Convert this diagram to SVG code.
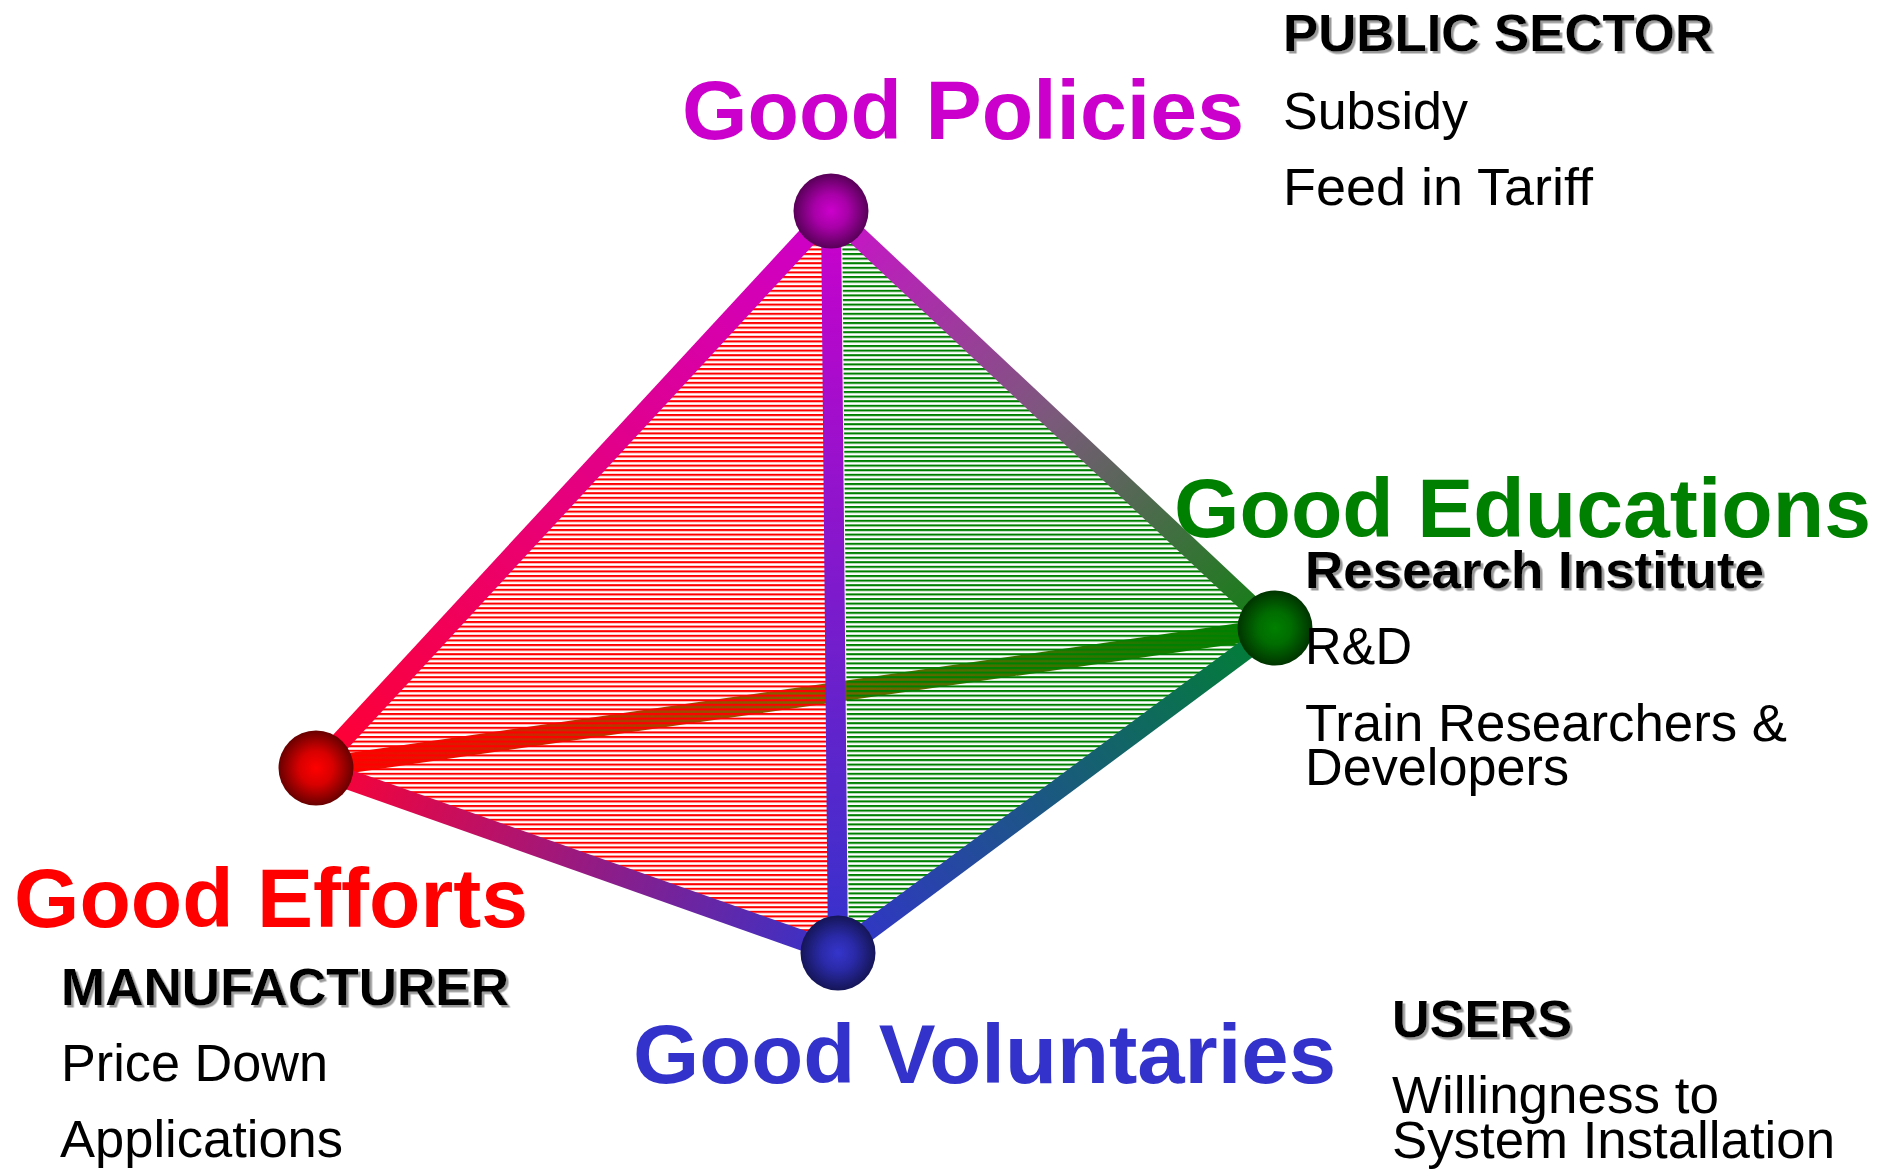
<svg xmlns="http://www.w3.org/2000/svg" width="1894" height="1170" viewBox="0 0 1894 1170">
  <style>
    .title { font-family: "Liberation Sans", Arial, sans-serif; font-weight: bold; font-size: 84px; }
    .head { font-family: "Liberation Sans", Arial, sans-serif; font-weight: bold; font-size: 52px; fill: #000; filter: url(#shadow); }
    .item { font-family: "Liberation Sans", Arial, sans-serif; font-size: 51px; fill: #000; }
    .edge { fill: none; stroke-width: 20; stroke-linecap: butt; }
  </style>
  <defs>
    <filter id="shadow" x="-5%" y="-20%" width="110%" height="150%">
      <feDropShadow dx="2.5" dy="2.5" stdDeviation="0.6" flood-color="#9a9a9a" flood-opacity="1"/>
    </filter>
    <!-- horizontal hatching for the two visible faces -->
    <pattern id="hatchRed" patternUnits="userSpaceOnUse" width="10" height="4.6">
      <rect x="0" y="0" width="10" height="2.1" fill="#ff0000"/>
    </pattern>
    <pattern id="hatchGreen" patternUnits="userSpaceOnUse" width="10" height="4.6">
      <rect x="0" y="0" width="10" height="2.1" fill="#008000"/>
    </pattern>
    <!-- edge colour ramps, from one vertex colour to the other -->
    <linearGradient id="gLT" gradientUnits="userSpaceOnUse" x1="316" y1="768" x2="831" y2="211">
      <stop offset="0" stop-color="#ff0030"/>
      <stop offset="1" stop-color="#cc00cc"/>
    </linearGradient>
    <linearGradient id="gTR" gradientUnits="userSpaceOnUse" x1="831" y1="211" x2="1275" y2="628">
      <stop offset="0" stop-color="#cc10cc"/>
      <stop offset="0.5" stop-color="#7a5a7a"/>
      <stop offset="1" stop-color="#108010"/>
    </linearGradient>
    <linearGradient id="gTB" gradientUnits="userSpaceOnUse" x1="831" y1="211" x2="838" y2="953">
      <stop offset="0" stop-color="#cc00cc"/>
      <stop offset="1" stop-color="#3333cc"/>
    </linearGradient>
    <linearGradient id="gLB" gradientUnits="userSpaceOnUse" x1="316" y1="768" x2="838" y2="953">
      <stop offset="0" stop-color="#ff0033"/>
      <stop offset="1" stop-color="#3333cc"/>
    </linearGradient>
    <linearGradient id="gRB" gradientUnits="userSpaceOnUse" x1="1275" y1="628" x2="838" y2="953">
      <stop offset="0" stop-color="#008030"/>
      <stop offset="1" stop-color="#3333cc"/>
    </linearGradient>
    <linearGradient id="gLR" gradientUnits="userSpaceOnUse" x1="316" y1="768" x2="1275" y2="628">
      <stop offset="0" stop-color="#ff0000"/>
      <stop offset="0.5" stop-color="#806000"/>
      <stop offset="1" stop-color="#008000"/>
    </linearGradient>
    <!-- sphere shading -->
    <radialGradient id="sMagenta" cx="0.5" cy="0.5" r="0.5">
      <stop offset="0" stop-color="#cc00cc"/>
      <stop offset="0.45" stop-color="#a800a8"/>
      <stop offset="1" stop-color="#580058"/>
    </radialGradient>
    <radialGradient id="sRed" cx="0.5" cy="0.5" r="0.5">
      <stop offset="0" stop-color="#ff0000"/>
      <stop offset="0.45" stop-color="#d80000"/>
      <stop offset="1" stop-color="#680000"/>
    </radialGradient>
    <radialGradient id="sGreen" cx="0.5" cy="0.5" r="0.5">
      <stop offset="0" stop-color="#008000"/>
      <stop offset="0.45" stop-color="#006c00"/>
      <stop offset="1" stop-color="#003400"/>
    </radialGradient>
    <radialGradient id="sBlue" cx="0.5" cy="0.5" r="0.5">
      <stop offset="0" stop-color="#3535cc"/>
      <stop offset="0.45" stop-color="#2a2aa8"/>
      <stop offset="1" stop-color="#151558"/>
    </radialGradient>
  </defs>

  <rect width="1894" height="1170" fill="#ffffff"/>

  <!-- hidden rear edge, seen through the hatched faces -->
  <g id="connectors">
    <line id="edge-efforts-educations" class="edge" x1="316" y1="768" x2="1275" y2="628" stroke="url(#gLR)" stroke-width="24"/>
  </g>

  <!-- hatched faces -->
  <g id="faces">
    <polygon id="face-left" points="831,211 316,768 838,953" fill="url(#hatchRed)"/>
    <polygon id="face-right" points="842,211 1275,628 849,953" fill="url(#hatchGreen)"/>
  </g>

  <!-- front edges -->
  <g id="front-edges">
    <line id="edge-efforts-policies" class="edge" x1="316" y1="768" x2="831" y2="211" stroke="url(#gLT)"/>
    <line id="edge-policies-educations" class="edge" x1="831" y1="211" x2="1275" y2="628" stroke="url(#gTR)"/>
    <line id="edge-efforts-voluntaries" class="edge" x1="316" y1="768" x2="838" y2="953" stroke="url(#gLB)"/>
    <line id="edge-educations-voluntaries" class="edge" x1="1275" y1="628" x2="838" y2="953" stroke="url(#gRB)"/>
    <line id="edge-policies-voluntaries" class="edge" x1="831" y1="211" x2="838" y2="953" stroke="url(#gTB)" stroke-width="18"/>
  </g>

  <!-- Good Policies -->
  <g id="node-policies">
    <circle cx="831" cy="211" r="37.5" fill="url(#sMagenta)"/>
    <text class="title" x="682" y="139" fill="#cc00cc" textLength="562" lengthAdjust="spacingAndGlyphs">Good Policies</text>
    <text class="head" x="1283" y="51" textLength="430" lengthAdjust="spacingAndGlyphs">PUBLIC SECTOR</text>
    <text class="item" x="1283" y="129" textLength="185" lengthAdjust="spacingAndGlyphs">Subsidy</text>
    <text class="item" x="1283" y="205" textLength="310" lengthAdjust="spacingAndGlyphs">Feed in Tariff</text>
  </g>

  <!-- Good Educations -->
  <g id="node-educations">
    <circle cx="1275" cy="628" r="37.5" fill="url(#sGreen)"/>
    <text class="title" x="1174" y="537" fill="#008000" textLength="697" lengthAdjust="spacingAndGlyphs">Good Educations</text>
    <text class="head" x="1305" y="588" textLength="459" lengthAdjust="spacingAndGlyphs">Research Institute</text>
    <text class="item" x="1305" y="664" textLength="107" lengthAdjust="spacingAndGlyphs">R&amp;D</text>
    <text class="item" x="1305" y="741" textLength="482" lengthAdjust="spacingAndGlyphs">Train Researchers &amp;</text>
    <text class="item" x="1305" y="785" textLength="264" lengthAdjust="spacingAndGlyphs">Developers</text>
  </g>

  <!-- Good Efforts -->
  <g id="node-efforts">
    <circle cx="316" cy="768" r="37.5" fill="url(#sRed)"/>
    <text class="title" x="14" y="927" fill="#ff0000" textLength="514" lengthAdjust="spacingAndGlyphs">Good Efforts</text>
    <text class="head" x="61" y="1005" textLength="448" lengthAdjust="spacingAndGlyphs">MANUFACTURER</text>
    <text class="item" x="61" y="1081" textLength="267" lengthAdjust="spacingAndGlyphs">Price Down</text>
    <text class="item" x="60" y="1157" textLength="283" lengthAdjust="spacingAndGlyphs">Applications</text>
  </g>

  <!-- Good Voluntaries -->
  <g id="node-voluntaries">
    <circle cx="838" cy="953" r="37.5" fill="url(#sBlue)"/>
    <text class="title" x="633" y="1083" fill="#3333cc" textLength="703" lengthAdjust="spacingAndGlyphs">Good Voluntaries</text>
    <text class="head" x="1392" y="1037" textLength="180" lengthAdjust="spacingAndGlyphs">USERS</text>
    <text class="item" x="1392" y="1113" textLength="327" lengthAdjust="spacingAndGlyphs">Willingness to</text>
    <text class="item" x="1392" y="1158" textLength="443" lengthAdjust="spacingAndGlyphs">System Installation</text>
  </g>
</svg>
